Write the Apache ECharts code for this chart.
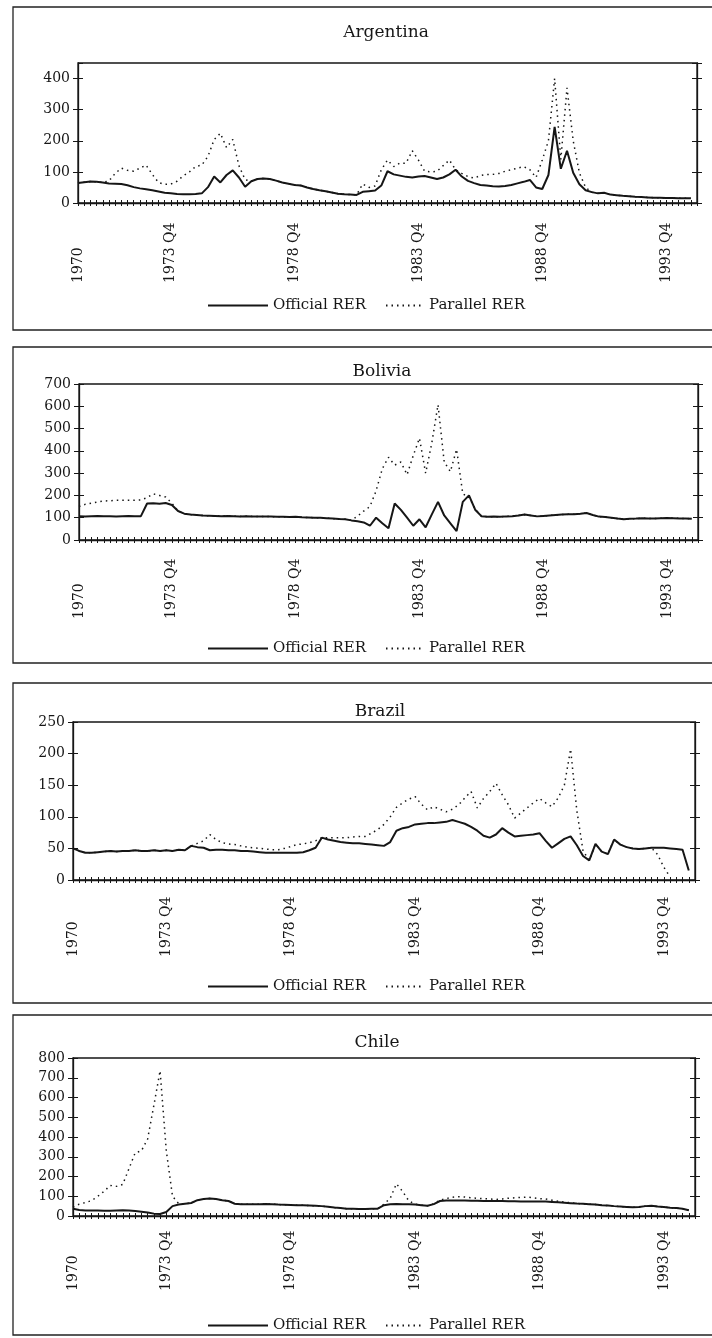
<!DOCTYPE html>
<html><head><meta charset="utf-8">
<script src="https://cdn.jsdelivr.net/npm/echarts@6/dist/echarts.min.js"></script>
<style>html,body{margin:0;padding:0;background:#fff}#c{width:712px;height:1338px}</style>
</head><body><div id="c"></div>
<script>
const countries = ['Argentina', 'Bolivia', 'Brazil', 'Chile'];
const tickIndex = [0, 15, 35, 55, 75, 95];
const tickText = ['1970', '1973 Q4', '1978 Q4', '1983 Q4', '1988 Q4', '1993 Q4'];
const quarters = [];
for (let y = 1970; y <= 1995; y++) for (let q = 1; q <= 4; q++) if (quarters.length < 101) quarters.push(y + ' Q' + q);
const yMax = [450, 700, 250, 800];
const yStep = [100, 100, 50, 100];

const argOfficial = [64,67,69,68,66,63,62,61,57,51,
 47,44,41,37,33,31,29,28,28,29,
 31,51,85,66,90,105,82,52,70,77,
 79,77,72,66,62,58,56,50,45,41,
 38,34,30,28,27,26,36,38,40,56,
 102,92,88,84,82,85,87,82,77,82,
 92,107,85,71,64,58,56,54,53,55,
 58,63,68,74,50,45,90,245,110,168,
 97,60,41,35,31,33,27,25,23,22,
 20,19,18,17,17,16,16,15,15,15];
const argParallel = [64,67,69,68,66,71,95,112,105,102,
 112,122,92,66,60,61,70,87,100,117,
 122,150,204,224,178,204,120,75,70,77,
 79,77,72,66,62,58,56,50,45,41,
 38,34,30,28,27,26,61,50,55,107,
 138,117,128,128,168,138,102,100,102,120,
 138,107,95,85,80,88,92,92,95,102,
 107,112,117,107,82,138,200,400,140,370,
 200,97,50,35,31,33,27,25,23,22,
 20,19,18,17,17,16,16,15,15,15];
const bolOfficial = [107,106,107,108,107,107,106,107,108,107,
 107,164,165,163,166,157,130,118,114,112,
 110,109,108,107,108,107,106,107,106,105,
 106,105,104,104,103,104,102,101,100,100,
 98,96,94,93,88,84,79,64,100,75,
 53,164,135,100,64,93,57,115,171,110,
 75,40,171,200,136,107,104,105,104,106,
 107,110,114,110,106,108,110,112,114,115,
 116,118,121,112,105,103,100,96,93,95,
 96,98,97,96,98,99,98,97,97,95];
const bolParallel = [150,160,165,171,175,176,178,178,178,178,
 180,190,207,200,193,165,130,118,114,112,
 110,109,108,107,108,107,106,107,106,105,
 106,105,104,104,103,104,102,101,100,100,
 98,96,94,93,88,107,130,150,221,320,
 371,336,350,293,379,457,300,436,607,350,
 307,407,207,193,140,107,104,105,104,106,
 107,110,114,110,106,108,110,112,114,115,
 116,118,121,112,105,103,100,96,93,95,
 96,98,97,96,98,99,98,97,97,95];
const braOfficial = [50,46,43,43,44,45,46,45,46,46,
 47,46,46,47,46,47,46,48,47,54,
 52,51,47,48,48,47,47,46,46,45,
 44,43,43,43,43,43,43,44,47,51,
 67,64,62,60,59,58,58,57,56,55,
 54,60,78,82,84,88,89,90,90,91,
 92,95,92,89,84,78,70,67,72,82,
 75,69,70,71,72,74,62,51,58,65,
 69,55,38,31,57,45,41,64,56,52,
 50,49,50,51,51,51,50,49,48,15];
const braParallel = [50,46,43,43,44,45,46,45,46,46,
 47,46,46,47,46,47,46,48,47,54,
 58,62,72,64,59,57,56,54,52,51,
 50,49,48,48,50,53,56,57,59,62,
 67,67,67,67,67,68,69,69,74,80,
 88,100,115,122,128,132,120,111,116,112,
 108,112,119,130,140,114,129,140,153,135,
 119,98,106,114,122,129,122,116,130,150,
 207,110,46,31,57,45,41,64,56,52,
 50,49,50,51,40,20,5,null,null,null];
const chiOfficial = [37,30,28,28,28,27,27,28,29,28,
 25,22,18,12,10,20,50,58,62,66,
 80,86,89,86,80,76,62,60,60,59,
 60,61,60,58,57,56,55,54,53,52,
 50,47,43,40,37,37,36,36,37,37,
 55,60,61,60,60,58,55,52,60,76,
 78,79,79,78,77,77,76,76,76,76,
 75,75,74,74,73,73,73,71,69,67,
 65,63,62,60,58,55,53,50,48,46,
 44,45,50,52,48,45,42,40,37,29];
const chiParallel = [45,60,68,78,100,125,155,150,160,240,
 320,330,390,560,735,330,100,62,62,66,
 80,86,89,86,80,76,62,60,60,59,
 60,61,60,58,57,56,55,54,53,52,
 50,47,43,40,37,37,36,36,37,37,
 60,90,163,124,76,60,55,52,62,80,
 88,95,98,96,92,90,88,86,84,86,
 90,92,94,96,92,88,86,80,75,70,
 67,63,62,60,58,55,53,50,48,46,
 44,45,50,52,48,45,42,40,37,29];

const officialData = [argOfficial, bolOfficial, braOfficial, chiOfficial];
const parallelData = [argParallel, bolParallel, braParallel, chiParallel];

// layout (pixels)
const layout = [
  {left: 78, right: 697, top: 63, zero: 203, labelMargin: 80, titleX: 386, titleY: 33, legendY: 302, frameTop: 7, frameBottom: 330},
  {left: 79, right: 698, top: 384, zero: 540, labelMargin: 79, titleX: 382, titleY: 372, legendY: 645, frameTop: 347, frameBottom: 663},
  {left: 73, right: 695, top: 722, zero: 880, labelMargin: 77, titleX: 380, titleY: 712, legendY: 983, frameTop: 683, frameBottom: 1003},
  {left: 73, right: 695, top: 1058, zero: 1216, labelMargin: 75, titleX: 377, titleY: 1043, legendY: 1322, frameTop: 1015, frameBottom: 1335}
];
const INK = '#161616';
const FONT = 'DejaVu Serif';

const grid = [], xAxis = [], yAxis = [], series = [], legend = [], graphic = [];
layout.forEach((L, p) => {
  grid.push({left: L.left, top: L.top, width: L.right - L.left, height: L.zero - L.top,
    show: true, borderColor: INK, borderWidth: 1.3, backgroundColor: 'transparent'});
  const xBase = {gridIndex: p, type: 'category', data: quarters, boundaryGap: false, position: 'bottom', splitLine: {show: false}};
  xAxis.push(Object.assign({}, xBase, {
    axisLine: {show: true, lineStyle: {color: INK, width: 1.3}},
    axisTick: {show: true, interval: 0, inside: true, length: 3, lineStyle: {color: INK, width: 1}},
    axisLabel: {
      interval: (i) => tickIndex.includes(i),
      formatter: (v, i) => { const k = tickIndex.indexOf(i); return k >= 0 ? tickText[k] : ''; },
      rotate: 90, align: 'left', verticalAlign: 'middle', margin: L.labelMargin,
      fontFamily: FONT, fontSize: 14, color: INK
    }
  }));
  xAxis.push(Object.assign({}, xBase, {
    axisLine: {show: false},
    axisTick: {show: true, interval: 0, inside: false, length: 3, lineStyle: {color: INK, width: 1}},
    axisLabel: {show: false}
  }));
  const yBase = {gridIndex: p, type: 'value', min: 0, max: yMax[p], interval: yStep[p], splitLine: {show: false}};
  yAxis.push(Object.assign({}, yBase, {
    position: 'left',
    axisLine: {show: true, onZero: false, lineStyle: {color: INK, width: 1.3}},
    axisTick: {show: true, inside: false, length: 5, lineStyle: {color: INK}},
    axisLabel: {show: true, margin: 8, fontFamily: FONT, fontSize: 14, color: INK, showMaxLabel: p !== 0}
  }));
  yAxis.push(Object.assign({}, yBase, {
    position: 'left', axisLine: {show: false},
    axisTick: {show: true, inside: true, length: 5, lineStyle: {color: INK}}, axisLabel: {show: false}
  }));
  yAxis.push(Object.assign({}, yBase, {
    position: 'right', axisLine: {show: true, onZero: false, lineStyle: {color: INK, width: 1.3}},
    axisTick: {show: true, inside: true, length: 5, lineStyle: {color: INK}}, axisLabel: {show: false}
  }));
  yAxis.push(Object.assign({}, yBase, {
    position: 'right', axisLine: {show: false},
    axisTick: {show: true, inside: false, length: 5, lineStyle: {color: INK}}, axisLabel: {show: false}
  }));
  series.push({
    name: 'Official RER', type: 'line', xAxisIndex: 2 * p, yAxisIndex: 4 * p,
    data: officialData[p], symbol: 'none', showSymbol: false, smooth: false,
    lineStyle: {color: INK, width: 2}, itemStyle: {color: INK}, z: 3
  });
  series.push({
    name: 'Parallel RER', type: 'line', xAxisIndex: 2 * p, yAxisIndex: 4 * p,
    data: parallelData[p], symbol: 'none', showSymbol: false, smooth: false, connectNulls: false,
    lineStyle: {color: INK, width: 1.5, type: [1.5, 4]}, itemStyle: {color: INK}, z: 4
  });
  const legendItemStyle = {opacity: 0};
  legend.push({
    data: ['Official RER'], left: 202, top: L.legendY - 9, itemWidth: 60, itemHeight: 14,
    selectedMode: false, itemStyle: legendItemStyle,
    textStyle: {fontFamily: FONT, fontSize: 15, color: INK}
  });
  legend.push({
    data: ['Parallel RER'], left: 380, top: L.legendY - 9, itemWidth: 38, itemHeight: 14,
    selectedMode: false, itemStyle: legendItemStyle,
    textStyle: {fontFamily: FONT, fontSize: 15, color: INK}
  });
  graphic.push({
    type: 'rect', shape: {x: 13, y: L.frameTop, width: 720, height: L.frameBottom - L.frameTop},
    style: {fill: 'none', stroke: '#222', lineWidth: 1.3}, silent: true
  });
  graphic.push({
    type: 'text', x: L.titleX, y: L.titleY,
    style: {text: countries[p], fill: INK, font: '17px "DejaVu Serif"', align: 'center', verticalAlign: 'middle'}
  });
});

const chart = echarts.init(document.getElementById('c'), null, {renderer: 'canvas'});
chart.setOption({
  animation: false,
  backgroundColor: '#ffffff',
  grid, xAxis, yAxis, series, legend, graphic
});
</script>
</body></html>
